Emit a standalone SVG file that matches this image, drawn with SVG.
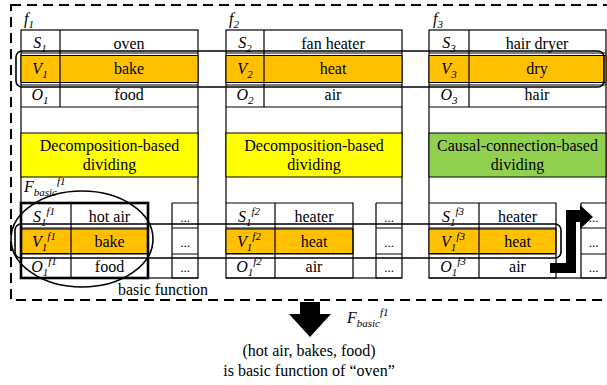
<svg xmlns="http://www.w3.org/2000/svg" width="607" height="385" viewBox="0 0 607 385">
<style>
.ln{fill:none;stroke:#000;stroke-width:1.2}
.bd{fill:none;stroke:#000;stroke-width:2.6}
.or{fill:#FFC000;stroke:#000;stroke-width:1}
.ye{fill:#FFFF00;stroke:#000;stroke-width:1}
.gr{fill:#92D050;stroke:#000;stroke-width:1}
text{font-family:'Liberation Serif','DejaVu Serif',serif}
.t{font-size:16px;fill:#000}
.c{text-anchor:middle}
.i{font-style:italic}
.s{font-size:11px}
.d{font-size:13px;fill:#000;text-anchor:middle}
.ann{fill:none;stroke:#000;stroke-width:1.6}
</style>
<rect x="0" y="0" width="607" height="385" fill="#fff"/>
<rect x="11" y="5" width="620" height="295" fill="none" stroke="#000" stroke-width="2" stroke-dasharray="10 6"/>
<g font-family="Liberation Serif, DejaVu Serif, serif">
<g id="f1">
  <text class="t i" x="24" y="24">f<tspan class="s" dy="4">1</tspan></text>
  <rect class="ln" x="21" y="30" width="177" height="248"/>
  <rect class="or" x="21" y="55.5" width="177" height="27"/>
  <path class="ln" d="M21 53H198M21 85H198M21 107H198M60 30V107"/>
  <text class="t i c" x="40" y="48">S<tspan class="s" dy="4">1</tspan></text>
  <text class="t c" x="129" y="49">oven</text>
  <text class="t i c" x="40" y="74">V<tspan class="s" dy="4">1</tspan></text>
  <text class="t c" x="129" y="74">bake</text>
  <text class="t i c" x="40" y="100">O<tspan class="s" dy="4">1</tspan></text>
  <text class="t c" x="129" y="100">food</text>
  <rect class="ye" x="21" y="133" width="177" height="44"/>
  <text class="t c" x="109.5" y="151">Decomposition-based</text>
  <text class="t c" x="109.5" y="170">dividing</text>
  <text class="t i" x="24" y="192">F<tspan class="s" dy="4">basic</tspan><tspan class="s" dy="-11">f1</tspan></text>
  <rect class="or" x="21" y="229" width="127" height="24.5"/>
  <path class="ln" d="M21 228H148M21 254H148M71 203V278"/>
  <rect class="bd" x="21" y="203" width="127" height="75"/>
  <text class="t i c" x="44" y="222">S<tspan class="s" dy="4">1</tspan><tspan class="s" dy="-11">f1</tspan></text>
  <text class="t c" x="109.5" y="222">hot air</text>
  <text class="t i c" x="44" y="247">V<tspan class="s" dy="4">1</tspan><tspan class="s" dy="-11">f1</tspan></text>
  <text class="t c" x="109.5" y="247">bake</text>
  <text class="t i c" x="44" y="272">O<tspan class="s" dy="4">1</tspan><tspan class="s" dy="-11">f1</tspan></text>
  <text class="t c" x="109.5" y="272">food</text>
  <path class="ln" d="M172 203H198M172 228H198M172 254H198M172 278H198M172 203V278"/>
  <text class="d" x="185" y="222">...</text>
  <text class="d" x="185" y="247">...</text>
  <text class="d" x="185" y="272">...</text>
  <text class="t c" x="163" y="295">basic function</text>
</g>

<g id="f2">
  <text class="t i" x="229" y="24">f<tspan class="s" dy="4">2</tspan></text>
  <rect class="ln" x="226" y="30" width="176" height="248"/>
  <rect class="or" x="226" y="55.5" width="176" height="27"/>
  <path class="ln" d="M226 53H402M226 85H402M226 107H402M264 30V107"/>
  <text class="t i c" x="245" y="48">S<tspan class="s" dy="4">2</tspan></text>
  <text class="t c" x="333" y="49">fan heater</text>
  <text class="t i c" x="245" y="74">V<tspan class="s" dy="4">2</tspan></text>
  <text class="t c" x="333" y="74">heat</text>
  <text class="t i c" x="245" y="100">O<tspan class="s" dy="4">2</tspan></text>
  <text class="t c" x="333" y="100">air</text>
  <rect class="ye" x="226" y="133" width="176" height="44"/>
  <text class="t c" x="314" y="151">Decomposition-based</text>
  <text class="t c" x="314" y="170">dividing</text>
  <rect class="or" x="226" y="229" width="127" height="24.5"/>
  <path class="ln" d="M226 203H353V278H226M226 228H353M226 254H353M275 203V278"/>
  <text class="t i c" x="249" y="222">S<tspan class="s" dy="4">1</tspan><tspan class="s" dy="-11">f2</tspan></text>
  <text class="t c" x="314" y="222">heater</text>
  <text class="t i c" x="249" y="247">V<tspan class="s" dy="4">1</tspan><tspan class="s" dy="-11">f2</tspan></text>
  <text class="t c" x="314" y="247">heat</text>
  <text class="t i c" x="249" y="272">O<tspan class="s" dy="4">1</tspan><tspan class="s" dy="-11">f2</tspan></text>
  <text class="t c" x="314" y="272">air</text>
  <path class="ln" d="M376 203H402M376 228H402M376 254H402M376 278H402M376 203V278"/>
  <text class="d" x="389" y="222">...</text>
  <text class="d" x="389" y="247">...</text>
  <text class="d" x="389" y="272">...</text>
</g>

<g id="f3">
  <text class="t i" x="433" y="24">f<tspan class="s" dy="4">3</tspan></text>
  <rect class="ln" x="429" y="30" width="177" height="248"/>
  <rect class="or" x="429" y="55.5" width="177" height="27"/>
  <path class="ln" d="M429 53H606M429 85H606M429 107H606M469 30V107"/>
  <text class="t i c" x="449" y="48">S<tspan class="s" dy="4">3</tspan></text>
  <text class="t c" x="537" y="49">hair dryer</text>
  <text class="t i c" x="449" y="74">V<tspan class="s" dy="4">3</tspan></text>
  <text class="t c" x="537" y="74">dry</text>
  <text class="t i c" x="449" y="100">O<tspan class="s" dy="4">3</tspan></text>
  <text class="t c" x="537" y="100">hair</text>
  <rect class="gr" x="429" y="133" width="177" height="44"/>
  <text class="t c" x="517.5" y="151">Causal-connection-based</text>
  <text class="t c" x="517.5" y="170">dividing</text>
  <rect class="or" x="429" y="229" width="127" height="24.5"/>
  <path class="ln" d="M429 203H556V278H429M429 228H556M429 254H556M479 203V278"/>
  <text class="t i c" x="453" y="222">S<tspan class="s" dy="4">1</tspan><tspan class="s" dy="-11">f3</tspan></text>
  <text class="t c" x="517.5" y="222">heater</text>
  <text class="t i c" x="453" y="247">V<tspan class="s" dy="4">1</tspan><tspan class="s" dy="-11">f3</tspan></text>
  <text class="t c" x="517.5" y="247">heat</text>
  <text class="t i c" x="453" y="272">O<tspan class="s" dy="4">1</tspan><tspan class="s" dy="-11">f3</tspan></text>
  <text class="t c" x="517.5" y="272">air</text>
  <path class="ln" d="M581 203H606M581 228H606M581 254H606M581 278H606M581 203V278"/>
  <text class="d" x="593.5" y="222">...</text>
  <text class="d" x="593.5" y="247">...</text>
  <text class="d" x="593.5" y="272">...</text>
</g>

<g id="highlights">
  <rect class="ann" x="16" y="51" width="588" height="36" rx="6"/>
  <rect class="ann" x="15" y="224" width="546" height="34" rx="6"/>
  <ellipse class="ann" cx="82" cy="239" rx="71" ry="48"/>
</g>

<g id="connectors">
  <polygon fill="#000" points="550,263 566,263 566,210 580,210 580,205 593,217 580,229 580,222 576,222 576,273 550,273"/>
  <polygon fill="#000" points="300,302 320,302 320,314 331,314 310,337 289,314 300,314"/>
  <text class="t i" x="347" y="323">F<tspan class="s" dy="4">basic</tspan><tspan class="s" dy="-11">f1</tspan></text>
</g>

<g id="result">
  <text class="t c" x="309" y="356">(hot air, bakes, food)</text>
  <text class="t c" x="309" y="376">is basic function of “oven”</text>
</g>
</g>
</svg>
